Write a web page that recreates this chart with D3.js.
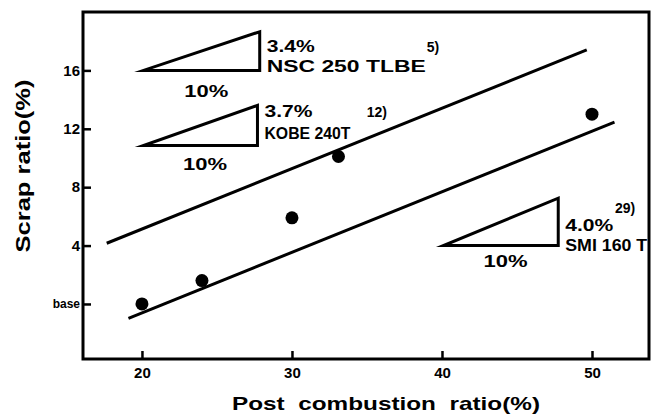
<!DOCTYPE html>
<html>
<head>
<meta charset="utf-8">
<script src="https://cdn.jsdelivr.net/npm/d3@7"></script>
<style>
  body { margin: 0; background: #fff; }
  svg { display: block; }
  text { font-family: "Liberation Sans", Arial, sans-serif; font-weight: bold; fill: #000; }
  .narrow { font-family: "Liberation Sans Narrow", "Liberation Sans", Arial, sans-serif; }
</style>
</head>
<body>
<svg class="chart" width="654" height="417"></svg>
<script>
// axis ticks
const xTicks = [20, 30, 40, 50]
const yTicks = [0, 4, 8, 12, 16]
const yTickLabels = ['base', '4', '8', '12', '16']

// measured points
const pointX = [20, 24, 30, 33.1, 50]
const pointY = [0, 1.6, 5.9, 10.1, 13.0]

// the two straight lines (start, end)
const upperX = [17.65, 49.65]
const upperY = [4.16, 17.4]
const lowerX = [19.1, 51.5]
const lowerY = [-0.98, 12.45]

// slope triangles
const triSlope = ['3.4%', '3.7%', '4.0%']
const triPlant = ['NSC 250 TLBE', 'KOBE 240T', 'SMI 160 T']
const triRef = ['5)', '12)', '29)']
const triRun = ['10%', '10%', '10%']
const triX0 = [20.1, 20.1, 40.1]
const triX1 = [27.85, 27.7, 47.75]
const triY0 = [16, 10.85, 4.0]
const triY1 = [18.65, 13.6, 7.25]

const margin = { left: 83, right: 5, top: 12, bottom: 58 }
const width = 654, height = 417

const svg = d3.select('svg.chart')

const x = d3.scaleLinear().domain([16.07, 53.8]).range([margin.left, width - margin.right])
const y = d3.scaleLinear().domain([-3.77, 20]).range([height - margin.bottom, margin.top])

// ticks (inward)
const gx = svg.append('g')
  .attr('transform', `translate(0, ${y.range()[0]})`)
  .call(d3.axisBottom(x).tickValues(xTicks).tickSize(-8).tickPadding(8).tickFormat(d3.format('d')))
gx.select('.domain').remove()
gx.selectAll('line').attr('stroke', '#000').attr('stroke-width', 2.5)
gx.selectAll('text').attr('font-size', 15).attr('font-family', null)

const gy = svg.append('g')
  .attr('transform', `translate(${x.range()[0]}, 0)`)
  .call(d3.axisLeft(y).tickValues(yTicks).tickSize(-8).tickPadding(3)
    .tickFormat((d, i) => yTickLabels[i]))
gy.select('.domain').remove()
gy.selectAll('line').attr('stroke', '#000').attr('stroke-width', 2.5)
gy.selectAll('text').attr('font-family', null)
  .attr('font-size', (d, i) => i === 0 ? 12 : 15)

// frame
svg.append('rect')
  .attr('x', x.range()[0])
  .attr('y', y.range()[1])
  .attr('width', x.range()[1] - x.range()[0])
  .attr('height', y.range()[0] - y.range()[1])
  .attr('fill', 'none')
  .attr('stroke', '#000')
  .attr('stroke-width', 3)

// straight lines
const line = d3.line().x(d => x(d[0])).y(d => y(d[1]))
const lines = [d3.zip(upperX, upperY), d3.zip(lowerX, lowerY)]
svg.selectAll('path.fit')
  .data(lines)
  .enter().append('path')
  .attr('class', 'fit')
  .attr('d', line)
  .attr('fill', 'none')
  .attr('stroke', '#000')
  .attr('stroke-width', 3)

// points
svg.selectAll('circle.pt')
  .data(d3.zip(pointX, pointY))
  .enter().append('circle')
  .attr('class', 'pt')
  .attr('cx', d => x(d[0]))
  .attr('cy', d => y(d[1]))
  .attr('r', 6.5)
  .attr('fill', '#000')

// triangles + labels
const tris = triSlope.map((s, i) => ({
  slope: s, plant: triPlant[i], ref: triRef[i], run: triRun[i],
  x0: triX0[i], x1: triX1[i], y0: triY0[i], y1: triY1[i]
}))

// label widths as drawn in the figure
const plantLen = [159, 86, 82]
const slopeBase = [17.26, 12.83, 5.02]
const plantBase = [15.87, 11.3, 3.65]
const runBase = [14.2, 9.18, 2.55]
const refPos = [[38.98, 17.26], [34.98, 12.83], [51.53, 6.23]]

const tg = svg.selectAll('g.tri')
  .data(tris)
  .enter().append('g')
  .attr('class', 'tri')

tg.append('path')
  .attr('d', d => `M${x(d.x0)},${y(d.y0)}L${x(d.x1)},${y(d.y0)}L${x(d.x1)},${y(d.y1)}Z`)
  .attr('fill', 'none')
  .attr('stroke', '#000')
  .attr('stroke-width', 3)
  .attr('stroke-linejoin', 'miter')
  .attr('stroke-miterlimit', 20)

tg.append('text')
  .attr('x', d => x(d.x1) + 7)
  .attr('y', (d, i) => y(slopeBase[i]))
  .attr('font-size', 17)
  .attr('textLength', 48)
  .attr('lengthAdjust', 'spacingAndGlyphs')
  .text(d => d.slope)

tg.append('text')
  .attr('class', (d, i) => i === 0 ? null : 'narrow')
  .attr('x', d => x(d.x1) + 7)
  .attr('y', (d, i) => y(plantBase[i]))
  .attr('font-size', 17)
  .attr('textLength', (d, i) => plantLen[i])
  .attr('lengthAdjust', 'spacingAndGlyphs')
  .text(d => d.plant)

tg.append('text')
  .attr('x', (d, i) => x(refPos[i][0]))
  .attr('y', (d, i) => y(refPos[i][1]))
  .attr('font-size', 14)
  .text(d => d.ref)

tg.append('text')
  .attr('x', d => x(d.x0 + (d.x1 - d.x0) * 0.54))
  .attr('y', (d, i) => y(runBase[i]))
  .attr('text-anchor', 'middle')
  .attr('font-size', 17)
  .attr('textLength', 44)
  .attr('lengthAdjust', 'spacingAndGlyphs')
  .text(d => d.run)

// axis titles
svg.append('text')
  .attr('x', 232)
  .attr('y', 410)
  .attr('font-size', 19)
  .attr('textLength', 308)
  .attr('lengthAdjust', 'spacingAndGlyphs')
  .attr('xml:space', 'preserve')
  .text('Post  combustion  ratio(%)')

svg.append('text')
  .attr('transform', 'translate(30, 166) rotate(-90)')
  .attr('text-anchor', 'middle')
  .attr('font-size', 20)
  .attr('textLength', 173)
  .attr('lengthAdjust', 'spacingAndGlyphs')
  .text('Scrap ratio(%)')
</script>
</body>
</html>
